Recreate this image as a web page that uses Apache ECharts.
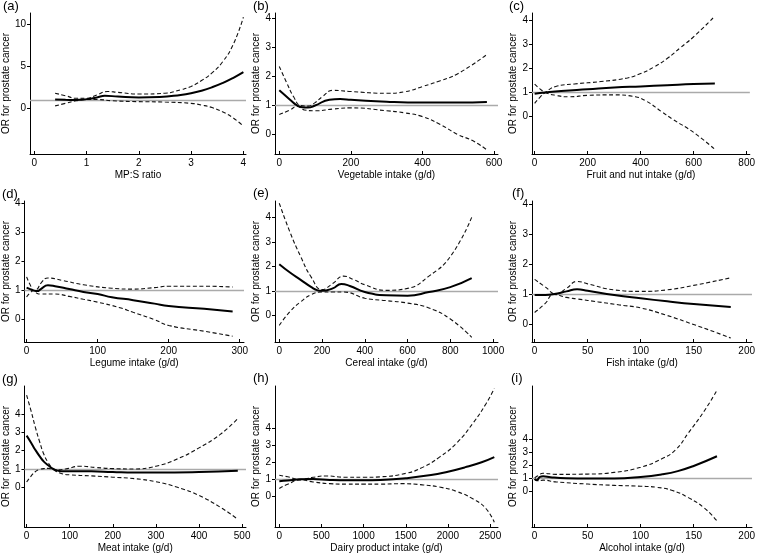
<!DOCTYPE html>
<html><head><meta charset="utf-8">
<script src="https://cdn.jsdelivr.net/npm/echarts@6/dist/echarts.min.js"></script>
<style>html,body{margin:0;padding:0;background:#fff}#c{width:758px;height:554px}</style>
</head><body><div id="c"></div>
<script>
// ---- data (x, OR) ----
const aFit=[[0.4,1.05],[0.6,1.02],[0.8,1.0],[1.0,1.1],[1.2,1.3],[1.35,1.5],[1.6,1.4],[2.0,1.3],[2.4,1.35],[2.8,1.6],[3.0,1.8],[3.2,2.1],[3.4,2.5],[3.6,3.0],[3.8,3.6],[4.0,4.3]];
const aUp=[[0.4,1.8],[0.6,1.5],[0.8,1.2],[1.0,1.2],[1.2,1.6],[1.4,2.0],[1.6,1.9],[2.0,1.7],[2.5,1.8],[2.8,2.2],[3.0,2.6],[3.2,3.3],[3.4,4.2],[3.6,5.5],[3.8,7.5],[4.0,10.8]];
const aLo=[[0.4,0.3],[0.6,0.6],[0.8,0.9],[1.0,1.05],[1.2,1.05],[1.5,0.9],[2.0,0.8],[2.5,0.75],[3.0,0.6],[3.2,0.4],[3.4,0.1],[3.6,-0.4],[3.8,-1.1],[4.0,-2.1]];

const bFit=[[0,1.52],[30,1.2],[50,1.0],[60,0.95],[80,0.93],[100,1.0],[140,1.2],[170,1.22],[200,1.2],[300,1.13],[400,1.1],[500,1.1],[580,1.12]];
const bUp=[[0,2.34],[20,1.8],[40,1.3],[60,1.0],[80,0.98],[100,1.1],[120,1.3],[150,1.52],[200,1.48],[300,1.42],[350,1.47],[400,1.65],[450,1.85],[500,2.1],[580,2.75]];
const bLo=[[0,0.69],[30,0.85],[50,0.97],[70,0.85],[100,0.82],[150,0.88],[200,0.92],[300,0.82],[350,0.75],[400,0.62],[450,0.35],[500,0.0],[540,-0.2],[580,-0.52]];

const cFit=[[0,0.95],[40,1.0],[100,1.06],[200,1.13],[300,1.2],[400,1.25],[500,1.3],[600,1.35],[680,1.37]];
const cUp=[[0,0.55],[20,0.8],[40,1.0],[80,1.25],[150,1.35],[250,1.45],[350,1.6],[400,1.78],[450,2.05],[500,2.4],[550,2.85],[600,3.3],[680,4.15]];
const cLo=[[0,1.34],[20,1.15],[40,1.0],[80,0.88],[130,0.82],[200,0.88],[300,0.9],[380,0.82],[420,0.65],[480,0.2],[520,-0.1],[600,-0.65],[680,-1.35]];

const dFit=[[0,1.1],[5,1.05],[10,1.0],[15,0.98],[20,1.05],[30,1.18],[40,1.15],[60,1.05],[80,0.95],[100,0.88],[120,0.77],[150,0.67],[180,0.55],[200,0.47],[250,0.37],[290,0.28]];
const dUp=[[0,1.47],[5,1.2],[10,1.0],[15,1.05],[20,1.25],[30,1.43],[50,1.35],[80,1.2],[120,1.08],[150,1.05],[180,1.1],[200,1.15],[250,1.15],[290,1.12]];
const dLo=[[0,0.78],[5,0.92],[10,1.0],[15,0.9],[20,0.88],[40,0.88],[60,0.8],[80,0.7],[100,0.6],[130,0.42],[150,0.25],[180,0.0],[200,-0.2],[250,-0.4],[290,-0.57]];

const eFit=[[0,2.09],[50,1.75],[100,1.45],[150,1.15],[180,1.02],[200,1.0],[250,1.1],[290,1.28],[330,1.2],[400,0.95],[500,0.82],[600,0.8],[700,0.95],[800,1.15],[900,1.52]];
const eUp=[[0,4.58],[50,3.4],[100,2.4],[150,1.55],[200,1.05],[250,1.3],[300,1.6],[350,1.45],[400,1.25],[500,1.02],[600,1.1],[700,1.6],[800,2.4],[900,4.0]];
const eLo=[[0,-0.41],[50,0.15],[100,0.55],[150,0.85],[200,0.95],[250,0.95],[300,0.95],[400,0.7],[500,0.6],[600,0.5],[700,0.3],[800,-0.15],[900,-0.9]];

const fFit=[[0,0.98],[10,0.98],[20,1.02],[30,1.1],[40,1.17],[50,1.12],[75,0.98],[100,0.87],[125,0.77],[150,0.68],[185,0.58]];
const fUp=[[0,1.5],[10,1.25],[20,1.02],[30,1.2],[40,1.43],[50,1.35],[75,1.15],[100,1.1],[125,1.15],[150,1.3],[185,1.55]];
const fLo=[[0,0.4],[10,0.7],[18,1.0],[30,0.9],[40,0.85],[60,0.75],[80,0.65],[100,0.55],[125,0.3],[150,0.0],[170,-0.25],[185,-0.45]];

const gFit=[[0,2.82],[10,2.45],[20,2.05],[30,1.7],[40,1.4],[50,1.2],[60,1.02],[70,0.92],[80,0.88],[100,0.88],[150,0.87],[200,0.83],[250,0.8],[300,0.8],[400,0.83],[490,0.9]];
const gUp=[[0,5.03],[10,4.2],[20,3.3],[30,2.5],[40,1.8],[50,1.35],[60,1.05],[70,0.95],[90,1.0],[125,1.15],[160,1.08],[200,1.02],[250,1.0],[300,1.15],[350,1.55],[400,2.15],[450,2.9],[490,3.75]];
const gLo=[[0,0.29],[10,0.6],[20,0.85],[30,0.97],[40,1.02],[50,1.03],[60,0.98],[70,0.85],[80,0.75],[100,0.68],[150,0.62],[200,0.55],[250,0.47],[300,0.3],[350,0.0],[400,-0.45],[450,-1.1],[490,-1.75]];

const hFit=[[0,0.89],[100,0.93],[250,1.0],[400,1.02],[600,0.97],[800,0.95],[1000,0.95],[1200,0.97],[1500,1.07],[1800,1.25],[2000,1.45],[2200,1.7],[2400,2.0],[2550,2.3]];
const hUp=[[0,1.24],[100,1.15],[250,1.0],[400,1.12],[550,1.2],[800,1.12],[1000,1.12],[1200,1.15],[1500,1.35],[1700,1.7],[1900,2.3],[2100,3.1],[2300,4.3],[2450,5.4],[2550,6.3]];
const hLo=[[0,0.47],[100,0.72],[250,0.97],[400,0.85],[600,0.75],[800,0.72],[1000,0.72],[1200,0.72],[1450,0.75],[1700,0.68],[1900,0.55],[2100,0.3],[2300,-0.15],[2450,-0.7],[2550,-1.5]];

const iFit=[[0,0.95],[2,0.85],[5,1.1],[8,1.15],[15,1.08],[30,1.0],[50,0.97],[75,0.98],[100,1.1],[120,1.3],[135,1.55],[150,1.95],[172,2.7]];
const iUp=[[0,1.03],[3,1.2],[8,1.38],[20,1.3],[50,1.32],[75,1.45],[100,1.85],[120,2.5],[133,3.2],[145,4.5],[160,6.2],[172,7.8]];
const iLo=[[0,0.9],[3,0.8],[8,0.85],[20,0.72],[50,0.55],[75,0.45],[100,0.38],[115,0.3],[130,0.05],[145,-0.5],[160,-1.3],[172,-2.3]];

const panelLabels=['(a)','(b)','(c)','(d)','(e)','(f)','(g)','(h)','(i)'];
const xNames=['MP:S ratio','Vegetable intake (g/d)','Fruit and nut intake (g/d)','Legume intake (g/d)','Cereal intake (g/d)','Fish intake (g/d)','Meat intake (g/d)','Dairy product intake (g/d)','Alcohol intake (g/d)'];
const yName='OR for prostate cancer';
const xTicks=[[0,1,2,3,4],[0,200,400,600],[0,200,400,600,800],[0,100,200,300],[0,200,400,600,800,1000],[0,50,100,150,200],[0,100,200,300,400,500],[0,500,1000,1500,2000,2500],[0,50,100,150,200]];
const yTicksA=[0,5,10];
const yTicks=[0,1,2,3,4];
const refOR=1;

// ---- layout ----
const panels=[
 {fit:aFit,up:aUp,lo:aLo,g:[23,13,223,141],x:[-0.08,4.05],y:[-5.4,11.3],yt:yTicksA,lab:[3,0]},
 {fit:bFit,up:bUp,lo:bLo,g:[275,13,223,141],x:[-12,611],y:[-0.66,4.17],yt:yTicks,lab:[253,0]},
 {fit:cFit,up:cUp,lo:cLo,g:[532,13,221,141],x:[-10,812],y:[-1.54,4.28],yt:yTicks,lab:[509,0]},
 {fit:dFit,up:dUp,lo:dLo,g:[23,201,221,141],x:[-3,306],y:[-0.77,4.08],yt:yTicks,lab:[2,188]},
 {fit:eFit,up:eUp,lo:eLo,g:[275,201,223,141],x:[-20,1023],y:[-1.09,4.67],yt:yTicks,lab:[253,187]},
 {fit:fFit,up:fUp,lo:fLo,g:[532,201,221,141],x:[-2.5,205],y:[-0.58,4.1],yt:yTicks,lab:[512,187]},
 {fit:gFit,up:gUp,lo:gLo,g:[23,386,223,142],x:[-5,509],y:[-2.17,5.53],yt:yTicks,lab:[2,373]},
 {fit:hFit,up:hUp,lo:hLo,g:[275,386,223,142],x:[-51,2594],y:[-1.78,6.45],yt:yTicks,lab:[253,372]},
 {fit:iFit,up:iUp,lo:iLo,g:[532,386,221,142],x:[-2.5,205],y:[-2.77,8.13],yt:yTicks,lab:[511,372]}
];
const FONT='Liberation Sans';
const plain=v=>String(v);
const grid=[],xAxis=[],yAxis=[],series=[],graphic=[];
panels.forEach((p,i)=>{
  grid.push({left:p.g[0],top:p.g[1],width:p.g[2],height:p.g[3],containLabel:false});
  xAxis.push({type:'value',gridIndex:i,min:p.x[0],max:p.x[1],
    axisLine:{show:true,onZero:false,lineStyle:{color:'#000',width:1}},
    axisTick:{show:true,inside:true,length:3,customValues:xTicks[i],lineStyle:{color:'#000'}},
    axisLabel:{customValues:xTicks[i],formatter:plain,color:'#000',fontSize:10,fontFamily:FONT,margin:4},
    splitLine:{show:false},
    name:xNames[i],nameLocation:'middle',nameGap:16,nameTextStyle:{color:'#000',fontSize:10,fontFamily:FONT}});
  yAxis.push({type:'value',gridIndex:i,min:p.y[0],max:p.y[1],
    axisLine:{show:true,onZero:false,lineStyle:{color:'#000',width:1}},
    axisTick:{show:true,length:3,customValues:p.yt,lineStyle:{color:'#000'}},
    axisLabel:{customValues:p.yt,formatter:plain,color:'#000',fontSize:10,fontFamily:FONT,margin:4},
    splitLine:{show:false},
    name:yName,nameLocation:'middle',nameGap:10,nameTextStyle:{color:'#000',fontSize:10,fontFamily:FONT}});
  const base={type:'line',xAxisIndex:i,yAxisIndex:i,showSymbol:false,symbol:'none',smooth:0.5,silent:true,animation:false};
  series.push(Object.assign({},base,{data:p.up,lineStyle:{color:'#111',width:1.1,type:[4,2.5]}}));
  series.push(Object.assign({},base,{data:p.lo,lineStyle:{color:'#111',width:1.1,type:[4,2.5]}}));
  series.push(Object.assign({},base,{data:p.fit,z:3,lineStyle:{color:'#000',width:2},
    markLine:{silent:true,symbol:'none',label:{show:false},lineStyle:{color:'#aaaaaa',width:1.4,type:'solid'},data:[{yAxis:refOR}],animation:false,z:1}}));
  graphic.push({type:'text',left:p.lab[0],top:p.lab[1],style:{text:panelLabels[i],fill:'#000',font:'13px "'+FONT+'"'}});
});
const chart=echarts.init(document.getElementById('c'),null,{renderer:'canvas'});
chart.setOption({animation:false,grid,xAxis,yAxis,series,graphic});
</script></body></html>
